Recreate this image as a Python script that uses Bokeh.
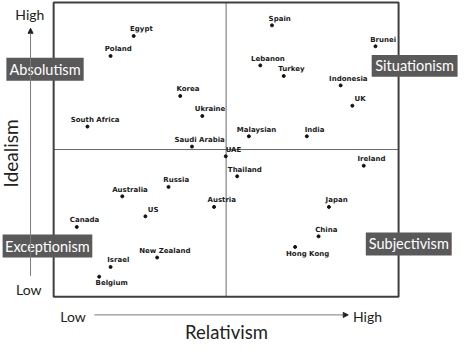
from bokeh.plotting import figure
from bokeh.models import ColumnDataSource, Arrow, NormalHead
from bokeh.core.properties import value
from bokeh.embed import file_html
from bokeh.resources import INLINE

# ---- data (relativism 0-100, idealism 0-100) ----
countries = ["Egypt", "Poland", "Korea", "Ukraine", "South Africa", "Saudi Arabia", "UAE",
             "Thailand", "Spain", "Brunei", "Lebanon", "Turkey", "Indonesia", "UK",
             "Malaysian", "India", "Ireland", "Russia", "Australia", "US", "Canada",
             "Austria", "New Zealand", "Israel", "Belgium", "Japan", "China", "Hong Kong"]
relativism = [23.2, 16.5, 36.7, 43.1, 9.8, 40.1, 49.9,
              53.2, 63.3, 93.3, 59.9, 66.7, 83.2, 86.6,
              56.6, 73.4, 89.9, 33.3, 19.9, 26.6, 6.7,
              46.5, 30.0, 16.5, 13.2, 79.8, 76.8, 70.0]
idealism = [88.6, 81.8, 68.2, 61.4, 57.8, 51.0, 47.7,
            40.9, 92.2, 85.1, 78.6, 75.0, 71.8, 64.9,
            54.5, 54.5, 44.5, 37.3, 34.1, 27.3, 23.7,
            30.5, 13.3, 10.1, 6.8, 30.5, 20.5, 16.9]
label_side = ["above"] * 28
label_side[countries.index("Belgium")] = "below"
label_side[countries.index("Hong Kong")] = "below"

quadrant_names = ["Absolutism", "Situationism", "Exceptionism", "Subjectivism"]
axis_tick_labels = ["Low", "High"]

W, H = 458, 342
p = figure(width=W, height=H, output_backend="svg", toolbar_location=None,
           x_range=(-15.41, 117.37), y_range=(-15.58, 100.65),
           min_border=0, min_border_left=0, min_border_right=0,
           min_border_top=0, min_border_bottom=0)
p.axis.visible = False
p.grid.visible = False
p.outline_line_color = None
p.background_fill_color = "white"
p.border_fill_color = "white"

GREY = "#7a7a7a"
# left (idealism) arrow
p.add_layout(Arrow(end=NormalHead(size=5, fill_color="#222", line_color="#222"),
                   x_start=-6.7, y_start=7.1, x_end=-6.7, y_end=91.2,
                   line_color=GREY, line_width=1))
# bottom (relativism) arrow
p.add_layout(Arrow(end=NormalHead(size=5, fill_color="#222", line_color="#222"),
                   x_start=11.8, y_start=-6.2, x_end=85.4, y_end=-6.2,
                   line_color=GREY, line_width=1))

# box + quadrant lines
p.segment(x0=[0], y0=[50], x1=[100], y1=[50], line_color="#6a6a6a", line_width=1)
p.segment(x0=[50], y0=[0], x1=[50], y1=[100], line_color="#6a6a6a", line_width=1)
p.quad(left=[0], right=[100], bottom=[0], top=[100], fill_color=None,
       line_color="#3f3f3f", line_width=2)

# axis texts
p.text(x=[-6.9, -7.2], y=[95.8, 2.6], text=["High", "Low"], text_font=value("Lato"),
       text_font_size="14px", text_color="#222", text_align="center", text_baseline="middle")
p.text(x=[5.6, 91.0], y=[-6.8, -6.8], text=axis_tick_labels, text_font=value("Lato"),
       text_font_size="14px", text_color="#222", text_align="center", text_baseline="middle")
p.text(x=[-12.5], y=[48.7], text=["Idealism"], angle=1.5708, text_font=value("Lato"),
       text_font_size="19px", text_color="#222", text_align="center", text_baseline="middle")
p.text(x=[50.1], y=[-12.0], text=["Relativism"], text_font=value("Lato"),
       text_font_size="18.5px", text_color="#222", text_align="center", text_baseline="middle")

# quadrant boxes
qleft = [-13.7, 92.2, -14.8, 90.5]
qright = [8.7, 117.1, 11.2, 115.4]
qbottom = [73.4, 74.7, 13.3, 14.0]
qtop = [81.2, 82.1, 21.1, 21.8]
p.quad(left=qleft, right=qright, bottom=qbottom, top=qtop,
       fill_color="#595959", line_color=None)
p.text(x=[(a + b) / 2 for a, b in zip(qleft, qright)],
       y=[(a + b) / 2 for a, b in zip(qbottom, qtop)],
       text=quadrant_names, text_font=value("Lato"), text_font_size="14.5px",
       text_color="white", text_align="center", text_baseline="middle")

# points
src = ColumnDataSource(dict(x=relativism, y=idealism, name=countries,
                            dx=[7.7 if s == "above" else 12.5 for s in label_side],
                            dy=[-6.7 if s == "above" else 6.7 for s in label_side]))
p.scatter(x="x", y="y", source=src, size=3, color="#111")
p.text(x="x", y="y", text="name", source=src, x_offset="dx", y_offset="dy",
       text_font=value("DejaVu Sans"), text_font_style="bold", text_font_size="7px",
       text_color="#1a1a1a", text_align="center", text_baseline="middle")

open("out.html", "w").write(file_html(p, INLINE))
